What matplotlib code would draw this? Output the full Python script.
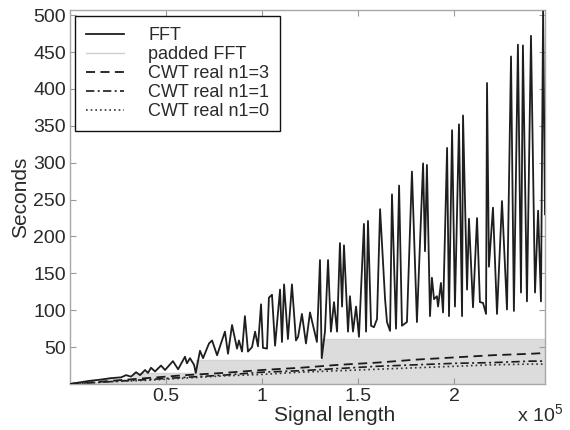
import matplotlib
matplotlib.use('Agg')
import matplotlib.pyplot as plt
from matplotlib.lines import Line2D

plt.rcParams['font.family'] = ['Liberation Sans', 'DejaVu Sans']
plt.rcParams['mathtext.fontset'] = 'custom'
plt.rcParams['mathtext.rm'] = 'Liberation Sans'
plt.rcParams['mathtext.it'] = 'Liberation Sans:italic'

# ---- data (signal length in samples, time in seconds) ----
fft_len_k = [0, 9.4, 16.1, 21.4, 26.6, 29.2, 31.8, 34.4, 36.5, 39.1,
             40.6, 42.2, 44.3, 47.4, 49.5, 53.6, 56.3, 59.9, 60.9, 62.5,
             64.6, 65.5, 67.7, 69.3, 72.4, 74.0, 76.6, 80.7, 82.3, 84.4,
             87.0, 88.0, 89.6, 91.1, 92.7, 94.8, 96.4, 97.9, 99.5, 100.5,
             102.6, 103.6, 105.2, 106.8, 109.4, 110.4, 111.5, 113.5, 115.6, 117.7,
             118.8, 120.8, 122.9, 125.0, 126.6, 128.6, 130.2, 131.1, 132.8, 134.4,
             135.9, 137.5, 139.1, 140.6, 141.7, 142.7, 144.8, 145.8, 147.4, 149.0,
             150.5, 153.1, 154.2, 155.2, 156.8, 158.3, 159.9, 161.5, 164.1, 165.1,
             166.7, 167.7, 169.8, 171.4, 172.9, 175.5, 178.1, 180.7, 183.9, 184.9,
             185.9, 187.5, 188.5, 189.6, 191.1, 191.7, 193.2, 194.3, 196.4, 197.4,
             199.0, 200.5, 202.6, 204.2, 204.7, 206.8, 207.8, 209.9, 212.0, 213.5,
             215.1, 216.7, 217.2, 218.2, 220.3, 222.4, 225.0, 227.6, 229.7, 231.2,
             233.3, 234.9, 235.9, 238.0, 240.1, 242.2, 243.8, 245.3, 246.4, 247.4]
fft_sec = [0, 4, 6, 8, 9, 12, 10, 16, 12, 19,
           15, 22, 17, 25, 19, 31, 20, 37, 28, 35,
           26, 15, 45, 35, 55, 59, 39, 71, 41, 80,
           48, 59, 44, 92, 44, 50, 71, 51, 108, 49,
           48, 117, 121, 52, 128, 57, 135, 61, 135, 59,
           64, 95, 55, 97, 79, 57, 168, 35, 71, 168,
           71, 111, 71, 191, 105, 188, 71, 119, 71, 105,
           64, 217, 71, 221, 79, 77, 88, 237, 115, 84,
           72, 257, 75, 269, 79, 84, 288, 84, 299, 180,
           297, 92, 144, 115, 119, 105, 137, 97, 320, 92,
           344, 105, 352, 92, 364, 128, 224, 104, 225, 111,
           110, 95, 408, 159, 239, 95, 248, 101, 444, 99,
           460, 124, 459, 112, 472, 124, 235, 112, 505, 230]

pad_len = [0, 16384, 32768, 65536, 131072, 247400]
pad_sec = [3, 7, 15, 32, 61, 61]

cwt_len = [0, 20000, 40000, 60000, 80000, 100000, 120000, 140000,
           160000, 180000, 200000, 220000, 240000, 247400]
cwt3_sec = [0, 4, 8, 12, 15, 19, 22, 26, 29, 33, 36, 39, 41, 42]
cwt1_sec = [0, 3, 6, 9, 12, 16, 18, 21, 24, 26, 28, 29, 31, 31]
cwt0_sec = [0, 3, 5, 8, 11, 13, 16, 18, 20, 22, 24, 26, 27, 27]

series_labels = ['FFT', 'padded FFT', 'CWT real n1=3', 'CWT real n1=1', 'CWT real n1=0']
xtick_vals = [50000, 100000, 150000, 200000]
xtick_labels = ['0.5', '1', '1.5', '2']
ytick_vals = [50, 100, 150, 200, 250, 300, 350, 400, 450, 500]

fft_len = [v * 1000 for v in fft_len_k]

# ---- figure ----
fig = plt.figure(figsize=(5.7, 4.3), dpi=100)
ax = fig.add_axes([70 / 570, 1 - 384 / 430, 475 / 570, 374 / 430])

txt = '#2a2a2a'
ax.fill_between(pad_len, 0, pad_sec, step='post', color='#dcdcdc', lw=0, zorder=1)
ax.step(pad_len, pad_sec, where='post', color='#d4d4d4', lw=1.0, zorder=1)
ax.plot(cwt_len, cwt3_sec, color='#1a1a1a', lw=1.3, dashes=(5, 3), zorder=2)
ax.plot(cwt_len, cwt1_sec, color='#1a1a1a', lw=1.2, dashes=(5, 2, 1.2, 2), zorder=2)
ax.plot(cwt_len, cwt0_sec, color='#333333', lw=1.2, dashes=(1, 1.8), zorder=2)
ax.plot(fft_len, fft_sec, color='#1e1e1e', lw=1.3, zorder=3)

ax.set_xlim(0, 247400)
ax.set_ylim(0, 507)
ax.set_xticks(xtick_vals, xtick_labels)
ax.set_yticks(ytick_vals)
ax.tick_params(direction='in', length=4, width=0.8, color='#9a9a9a',
               labelsize=14, labelcolor=txt, top=True, right=True, pad=3)
for s in ax.spines.values():
    s.set_color('#a8a8a8')
    s.set_linewidth(1.0)

ax.set_ylabel('Seconds', fontsize=15, color=txt, labelpad=2)
ax.set_xlabel('Signal length', fontsize=15, color=txt)
ax.xaxis.set_label_coords(0.558, -0.058)
fig.text(517 / 570, 1 - 414 / 430, 'x 10$^5$', fontsize=14, color=txt,
         ha='left', va='center')

handles = [
    Line2D([], [], color='#1e1e1e', lw=1.3),
    Line2D([], [], color='#cfcfcf', lw=1.0),
    Line2D([], [], color='#1a1a1a', lw=1.3, dashes=(5, 3)),
    Line2D([], [], color='#1a1a1a', lw=1.2, dashes=(5, 2, 1.2, 2)),
    Line2D([], [], color='#333333', lw=1.2, dashes=(1, 1.8)),
]
leg = ax.legend(handles, series_labels, loc='upper left',
                bbox_to_anchor=((75 - 70) / 475, (384 - 16) / 374),
                borderaxespad=0, fontsize=13, handlelength=2.1,
                handletextpad=1.35, labelspacing=0.12, borderpad=0.6,
                fancybox=False, framealpha=1, edgecolor='#111111')
leg.get_frame().set_linewidth(1.0)
for t in leg.get_texts():
    t.set_color(txt)

fig.savefig('out.png', dpi=100, facecolor='white')
